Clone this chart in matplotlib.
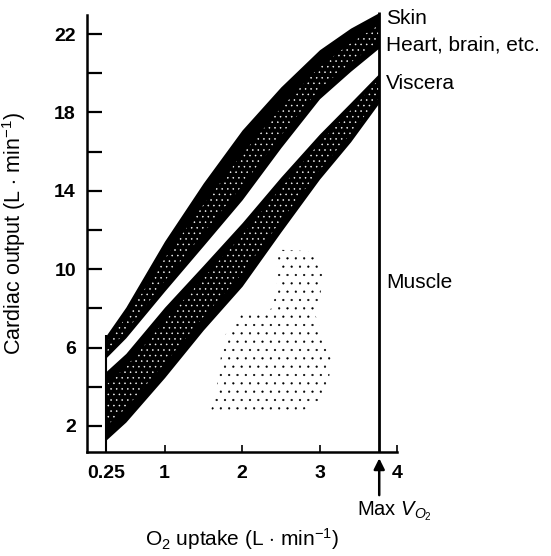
import numpy as np
import matplotlib.pyplot as plt
from matplotlib.patches import Polygon

plt.rcParams['font.family'] = ['Liberation Sans', 'DejaVu Sans']
plt.rcParams['mathtext.fontset'] = 'custom'
plt.rcParams['mathtext.rm'] = 'Liberation Sans'
plt.rcParams['mathtext.it'] = 'Liberation Sans:italic'
plt.rcParams['hatch.linewidth'] = 0.35

# O2 uptake (L/min) and the band edges
o2 = [0.25, 0.5, 1.0, 1.5, 2.0, 2.5, 3.0, 3.4, 3.77]
skin_top = [6.64, 8.06, 11.43, 14.4, 17.1, 19.3, 21.2, 22.3, 23.1]
heart_low = [5.5, 6.5, 8.88, 11.2, 13.54, 16.2, 18.7, 20.1, 21.3]
visc_top = [4.8, 5.7, 8.06, 10.2, 12.37, 14.7, 16.9, 18.5, 20.0]
visc_low = [1.3, 2.2, 4.47, 6.9, 9.13, 11.9, 14.6, 16.5, 18.5]

# outline of the stippled muscle cloud
muscle_x = [2.45, 2.95, 3.05, 2.95, 3.15, 3.1, 2.7, 2.0, 1.6, 1.7, 1.75, 2.0, 2.4, 2.45]
muscle_y = [11.0, 10.9, 9.5, 7.6, 5.5, 3.5, 2.6, 2.7, 2.8, 4.5, 6.5, 7.7, 8.0, 9.5]

y_major = [2, 6, 10, 14, 18, 22]
y_minor = [4, 8, 12, 16, 20]
x_ticks = [0.25, 1, 2, 3, 4]
x_ticklabels = ["0.25", "1", "2", "3", "4"]
side_labels = ["Skin", "Heart, brain, etc.", "Viscera", "Muscle"]
side_label_y = [22.8, 21.44, 19.45, 9.34]
max_vo2 = 3.77

YMIN, YMAX = 0.67, 22.97

fig = plt.figure(figsize=(5.51, 5.56), dpi=100)
ax = fig.add_axes([0.158, 0.187, 0.5626, 0.786])

o2a = np.array(o2)
st, hl = np.array(skin_top), np.array(heart_low)
vt, vl = np.array(visc_top), np.array(visc_low)

# solid black bands
ax.fill_between(o2, heart_low, skin_top, color="black", lw=0, clip_on=False)
ax.fill_between(o2, visc_low, visc_top, color="black", lw=0)

# white stipple in the middle of each band
ax.fill_between(o2a, hl + 0.2 * (st - hl), hl + 0.65 * (st - hl),
                facecolor="none", edgecolor="white", lw=0, hatch="...")
ax.fill_between(o2a, vl + 0.2 * (vt - vl), vl + 0.8 * (vt - vl),
                facecolor="none", edgecolor="white", lw=0, hatch="...")

# muscle stipple
ax.add_patch(Polygon(np.column_stack([muscle_x, muscle_y]), closed=True,
                     facecolor="none", edgecolor="black", lw=0, hatch=".."))

# left edge of bands and max VO2 line
ax.vlines(o2[0], YMIN, skin_top[0], color="black", lw=1.5)
ax.vlines(max_vo2, YMIN, skin_top[-1], color="black", lw=2, clip_on=False)

ax.set_xlim(0, 4)
ax.set_ylim(YMIN, YMAX)
for s in ["top", "right"]:
    ax.spines[s].set_visible(False)
for s in ["left", "bottom"]:
    ax.spines[s].set_linewidth(1.8)

ax.set_yticks(y_major)
ax.set_yticks(y_minor, minor=True)
ax.set_xticks(x_ticks)
ax.set_xticklabels(x_ticklabels)
ax.tick_params(axis="y", which="both", direction="in", length=11, width=1.6,
               pad=8, labelsize=14)
ax.tick_params(axis="x", direction="in", length=5, width=1.2, pad=9,
               labelsize=14)
for t in ax.get_xticklabels() + ax.get_yticklabels():
    t.set_fontweight("bold")

ax.set_ylabel(r"Cardiac output (L $\cdot$ min$^{-1}$)", fontsize=15.5)
ax.yaxis.set_label_coords(-0.19, 0.5)
ax.set_xlabel(r"O$_2$ uptake (L $\cdot$ min$^{-1}$)", fontsize=15)
ax.xaxis.set_label_coords(0.5, -0.17)

for lab, yv in zip(side_labels, side_label_y):
    ax.text(3.86, yv, lab, fontsize=15, va="center", ha="left")

# Max VO2 arrow below the axis
ax.annotate("", xy=(max_vo2, -0.008), xytext=(max_vo2, -0.105),
            xycoords=ax.get_xaxis_transform(),
            textcoords=ax.get_xaxis_transform(),
            arrowprops=dict(arrowstyle="-|>", color="black", lw=1.8,
                            mutation_scale=16), annotation_clip=False)
ax.text(3.97, -0.135, r"Max $V_{O_2}$", transform=ax.get_xaxis_transform(),
        fontsize=14.5, ha="center", va="center")

fig.savefig("out.png", dpi=100, facecolor="white")
